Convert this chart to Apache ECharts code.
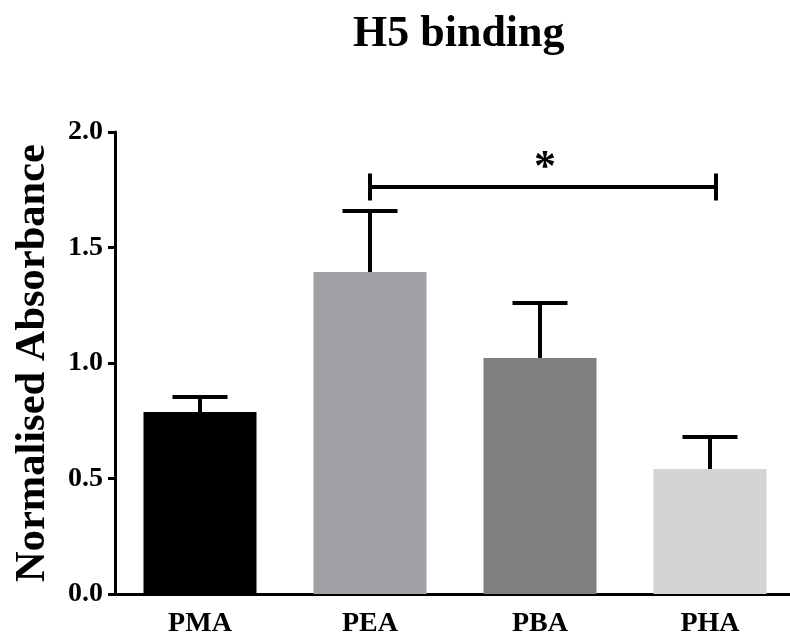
<!DOCTYPE html>
<html>
<head>
<meta charset="utf-8">
<script src="https://cdn.jsdelivr.net/npm/echarts@6/dist/echarts.min.js"></script>
<style>
html,body{margin:0;padding:0;background:#fff;}
#chart{width:790px;height:637px;}
</style>
</head>
<body>
<div id="chart"></div>
<script>
var categories = ['PMA', 'PEA', 'PBA', 'PHA'];
var means = [0.788, 1.394, 1.022, 0.541];
var errors = [0.065, 0.264, 0.238, 0.139];
var barColors = ['#000000', '#a1a0a5', '#808080', '#d4d4d4'];
var yTicks = [0, 0.5, 1.0, 1.5, 2.0];
var sigPairs = [[1, 3, 1.762, '*']];

var FONT = "'Times New Roman', 'Liberation Serif', serif";
var chart = echarts.init(document.getElementById('chart'));

var option = {
  animation: false,
  backgroundColor: '#ffffff',
  title: {
    text: 'H5 binding',
    left: 348,
    top: 8,
    textStyle: { fontFamily: FONT, fontWeight: 'bold', fontSize: 44, color: '#000' }
  },
  grid: { left: 115, top: 132, width: 680, bottom: 43, containLabel: false, outerBoundsMode: 'none' },
  xAxis: {
    type: 'category',
    data: categories,
    axisLine: { lineStyle: { color: '#000', width: 3 } },
    axisTick: { alignWithLabel: true, length: 8, lineStyle: { color: '#000', width: 3 } },
    axisLabel: { fontFamily: FONT, fontWeight: 'bold', fontSize: 28, color: '#000', margin: 16 }
  },
  yAxis: {
    type: 'value',
    min: yTicks[0],
    max: yTicks[yTicks.length - 1],
    interval: 0.5,
    name: 'Normalised Absorbance',
    nameLocation: 'middle',
    nameGap: 60,
    nameMoveOverlap: false,
    nameTextStyle: { fontFamily: FONT, fontWeight: 'bold', fontSize: 42.5, color: '#000' },
    splitLine: { show: false },
    axisLine: { show: true, lineStyle: { color: '#000', width: 3 } },
    axisTick: { show: true, length: 7, lineStyle: { color: '#000', width: 3 } },
    axisLabel: {
      fontFamily: FONT, fontWeight: 'bold', fontSize: 28, color: '#000', margin: 12,
      formatter: function (v) { return v.toFixed(1); }
    }
  },
  series: [
    {
      type: 'bar',
      barWidth: 113,
      data: means.map(function (v, i) { return { value: v, itemStyle: { color: barColors[i] } }; }),
      z: 2
    },
    {
      type: 'custom',
      z: 3,
      data: means.map(function (v, i) { return [i, v, v + errors[i]]; }),
      renderItem: function (params, api) {
        var base = api.coord([api.value(0), api.value(1)]);
        var top = api.coord([api.value(0), api.value(2)]);
        var half = 27.5;
        var st = { stroke: '#000', lineWidth: 4 };
        return {
          type: 'group',
          children: [
            { type: 'line', shape: { x1: base[0], y1: base[1], x2: top[0], y2: top[1] }, style: st },
            { type: 'line', shape: { x1: top[0] - half, y1: top[1], x2: top[0] + half, y2: top[1] }, style: st }
          ]
        };
      }
    },
    {
      type: 'custom',
      z: 4,
      data: sigPairs,
      renderItem: function (params, api) {
        var p1 = api.coord([api.value(0), api.value(2)]);
        var p2 = api.coord([api.value(1), api.value(2)]);
        p2[0] += 6;
        var h = 13.5;
        var st = { stroke: '#000', lineWidth: 4 };
        return {
          type: 'group',
          children: [
            { type: 'line', shape: { x1: p1[0], y1: p1[1], x2: p2[0], y2: p2[1] }, style: st },
            { type: 'line', shape: { x1: p1[0], y1: p1[1] - h, x2: p1[0], y2: p1[1] + h }, style: st },
            { type: 'line', shape: { x1: p2[0], y1: p2[1] - h, x2: p2[0], y2: p2[1] + h }, style: st },
            { type: 'text', style: { text: sigPairs[params.dataIndex][3], x: (p1[0] + p2[0]) / 2 + 2, y: p1[1] + 4,
              textAlign: 'center', textVerticalAlign: 'bottom', fill: '#000',
              font: 'bold 44px ' + FONT } }
          ]
        };
      }
    }
  ]
};
chart.setOption(option);
</script>
</body>
</html>
